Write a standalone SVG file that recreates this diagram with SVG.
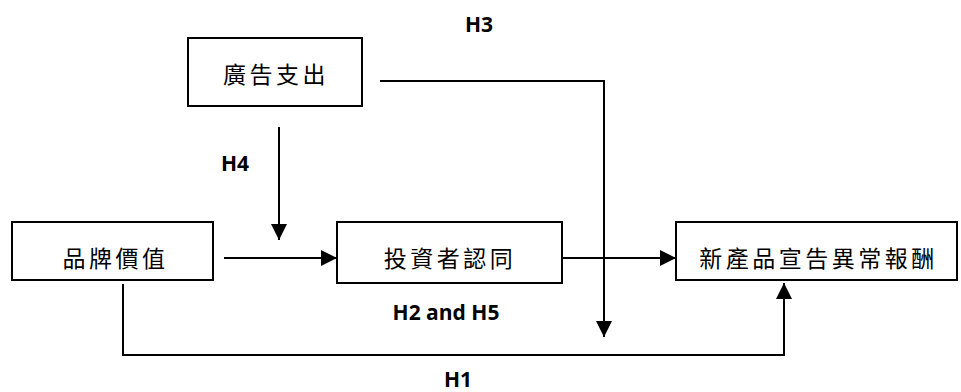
<svg xmlns="http://www.w3.org/2000/svg" width="961" height="392" viewBox="0 0 961 392">
  <style>
    .box { fill: #ffffff; stroke: #000000; stroke-width: 2; }
    .label { font-family: "Noto Sans CJK TC", "Noto Sans CJK SC", sans-serif; font-size: 23px; letter-spacing: 3.5px; fill: #000000; text-anchor: middle; dominant-baseline: central; }
    .alt { font-family: "Noto Sans CJK SC", "Noto Sans CJK TC", sans-serif; }
    .hyp { font-family: "Open Sans", "Liberation Sans", sans-serif; font-weight: bold; font-size: 21px; fill: #000000; text-anchor: middle; }
    .link { fill: none; stroke: #000000; stroke-width: 2; marker-end: url(#arrow); }
  </style>
  <defs>
    <marker id="arrow" viewBox="0 0 16 16" refX="16" refY="8" markerWidth="16" markerHeight="16" markerUnits="userSpaceOnUse" orient="auto">
      <path d="M0,0 L16,8 L0,16 Z" fill="#000000"/>
    </marker>
  </defs>

  <g id="node-ad-spending">
    <rect class="box" x="188" y="38" width="174" height="68"/>
    <text class="label" x="276" y="73">廣告支出</text>
  </g>

  <g id="node-brand-value">
    <rect class="box" x="12" y="222" width="201" height="58"/>
    <text class="label" x="115.5" y="257">品牌價值</text>
  </g>

  <g id="node-investor-recognition">
    <rect class="box" x="337" y="222" width="225" height="61"/>
    <text class="label" x="450" y="257">投資者認同</text>
  </g>

  <g id="node-abnormal-return">
    <rect class="box" x="676" y="222" width="281" height="58"/>
    <text class="label" x="818.5" y="257">新產品宣告異常報<tspan class="alt">酬</tspan></text>
  </g>

  <g id="connectors">
    <!-- H4: advertising moderates brand value -> investor recognition -->
    <path class="link" d="M279,127 L279,240"/>
    <!-- H3: advertising -> announcement return -->
    <path class="link" d="M380,81 L604,81 L604,337"/>
    <!-- brand value -> investor recognition -->
    <path class="link" d="M224,258 L337,258"/>
    <!-- investor recognition -> announcement return -->
    <path class="link" d="M562,258 L676,258"/>
    <!-- H1: brand value -> announcement return -->
    <path class="link" d="M123,284 L123,355 L784,355 L784,283"/>
  </g>

  <g id="hypothesis-labels">
    <text class="hyp" x="479" y="32">H3</text>
    <text class="hyp" x="235" y="171">H4</text>
    <text class="hyp" x="446" y="320">H2 and H5</text>
    <text class="hyp" x="458" y="387">H1</text>
  </g>
</svg>
